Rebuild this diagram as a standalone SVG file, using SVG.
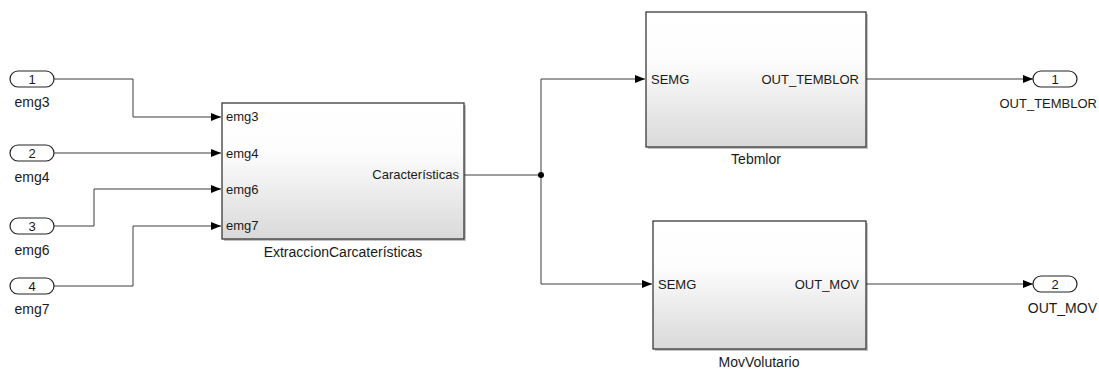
<svg xmlns="http://www.w3.org/2000/svg" width="1099" height="370" viewBox="0 0 1099 370">
<style>
text{font-family:"Liberation Sans",Arial,sans-serif;font-size:13px;fill:#1a1a1a}
.lbl{font-size:14px}
.mid{text-anchor:middle}
.end{text-anchor:end}
.port{fill:#fff;stroke:#222;stroke-width:1.2}
.blk{fill:url(#g);stroke:#3a3a3a;stroke-width:1.3}
.sh{fill:#9a9a9a;opacity:0.6}
.w{fill:none;stroke:#3c3c3c;stroke-width:1}
</style>
<defs>
<linearGradient id="g" x1="0" y1="0" x2="0" y2="1">
<stop offset="0" stop-color="#ffffff"/>
<stop offset="0.35" stop-color="#fdfdfd"/>
<stop offset="1" stop-color="#d9d9d9"/>
</linearGradient>
<marker id="a" viewBox="0 0 10 8" refX="10" refY="4" markerWidth="10" markerHeight="8" markerUnits="userSpaceOnUse" orient="auto">
<path d="M0,0 L10,4 L0,8 z" fill="#000"/>
</marker>
</defs>

<g id="in1"><rect class="port" x="10" y="71" width="44" height="16" rx="8"/><text class="mid" x="32" y="84">1</text><text class="mid lbl" x="32" y="107">emg3</text></g>
<g id="in2"><rect class="port" x="10" y="145" width="44" height="16" rx="8"/><text class="mid" x="32" y="158">2</text><text class="mid lbl" x="32" y="182">emg4</text></g>
<g id="in3"><rect class="port" x="10" y="218" width="44" height="16" rx="8"/><text class="mid" x="32" y="231">3</text><text class="mid lbl" x="32" y="255">emg6</text></g>
<g id="in4"><rect class="port" x="10" y="278" width="44" height="16" rx="8"/><text class="mid" x="32" y="291">4</text><text class="mid lbl" x="32" y="314">emg7</text></g>

<g id="extraccion">
<rect class="sh" x="224" y="105" width="242" height="136"/>
<rect class="blk" x="222" y="103" width="242" height="136"/>
<text x="226" y="121">emg3</text>
<text x="226" y="158">emg4</text>
<text x="226" y="194">emg6</text>
<text x="226" y="230">emg7</text>
<text class="end" x="459" y="179">Características</text>
<text class="mid lbl" x="343" y="257">ExtraccionCarcaterísticas</text>
</g>

<g id="tebmlor">
<rect class="sh" x="648" y="14" width="220" height="135"/>
<rect class="blk" x="646" y="12" width="220" height="135"/>
<text x="651" y="84">SEMG</text>
<text class="end" x="859" y="84">OUT_TEMBLOR</text>
<text class="mid lbl" x="756" y="164">Tebmlor</text>
</g>

<g id="movvolutario">
<rect class="sh" x="655" y="223" width="213" height="128"/>
<rect class="blk" x="653" y="221" width="213" height="128"/>
<text x="658" y="289">SEMG</text>
<text class="end" x="859" y="289">OUT_MOV</text>
<text class="mid lbl" x="759" y="367">MovVolutario</text>
</g>

<g id="out1"><rect class="port" x="1033" y="71" width="44" height="16" rx="8"/><text class="mid" x="1055" y="84">1</text><text class="end" x="1097" y="108">OUT_TEMBLOR</text></g>
<g id="out2"><rect class="port" x="1033" y="276" width="44" height="16" rx="8"/><text class="mid" x="1055" y="289">2</text><text class="end lbl" x="1097" y="313">OUT_MOV</text></g>

<g id="connectors">
<path class="w" d="M54,79 H133 V117 H221" marker-end="url(#a)"/>
<path class="w" d="M54,153 H221" marker-end="url(#a)"/>
<path class="w" d="M54,226 H94 V189 H221" marker-end="url(#a)"/>
<path class="w" d="M54,286 H133 V226 H221" marker-end="url(#a)"/>
<path class="w" d="M464,175 H541"/>
<path class="w" d="M541,175 V79 H645" marker-end="url(#a)"/>
<path class="w" d="M541,175 V284 H652" marker-end="url(#a)"/>
<circle cx="541" cy="175" r="3" fill="#000"/>
<path class="w" d="M866,79 H1033" marker-end="url(#a)"/>
<path class="w" d="M866,284 H1033" marker-end="url(#a)"/>
</g>
</svg>
